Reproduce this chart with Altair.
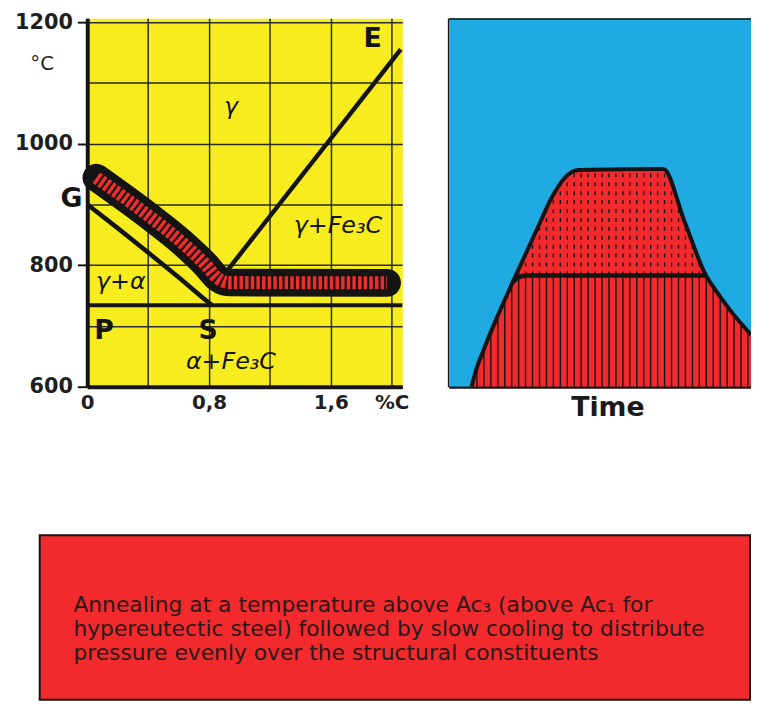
import altair as alt
import pandas as pd
import numpy as np

# ---------------- data: left panel (Fe-Fe3C diagram) ----------------
x_ticks = [0, 0.4, 0.8, 1.2, 1.6, 2.0]
y_ticks = [600, 700, 800, 900, 1000, 1100, 1200]

g_x = [0, 0.2, 0.4, 0.6, 0.8, 0.82]          # GS line (Ac3)
g_t = [900, 861, 821, 780, 738, 734]
psk_x = [0, 2.07]                              # PSK line (Ac1)
psk_t = [734, 734]
se_x = [0.86, 2.06]                            # SE line (Acm)
se_t = [772, 1155]
band_x = [0.06, 0.41, 0.62, 0.78, 0.86, 0.93, 1.97]   # annealing range
band_t = [944, 880, 838, 800, 778, 771.5, 771]

letters = ["E", "G", "P", "S"]
letters_x = [1.875, -0.104, 0.11, 0.794]
letters_t = [1172, 908, 691, 691]
phases = ["γ", "γ+Fe₃C", "γ+α", "α+Fe₃C"]
phases_x = [0.944, 1.647, 0.221, 0.944]
phases_t = [1060, 864, 773, 641]

# ---------------- data: right panel (time-temperature) ----------------
time_x = [7.5, 9.0, 11.5, 15.5, 21.2, 28.7, 34.5, 38.5, 43.0, 71.0, 78.0, 85.1, 88.8, 92.7, 100.0]
temp_y = [0.0, 4.5, 10.0, 18.0, 28.5, 41.9, 52.0, 56.8, 58.8, 59.1, 44.8, 30.2, 25.6, 21.2, 14.1]
ac1_x = [21.2, 23.0, 25.5, 85.1]
ac1_y = [28.5, 29.6, 30.2, 30.2]
ac1_level = 30.2

# ---------------- data: caption ----------------
text_lines = [
    "Annealing at a temperature above Ac₃ (above Ac₁ for",
    "hypereutectic steel) followed by slow cooling to distribute",
    "pressure evenly over the structural constituents",
]
text_rows = [0, 1, 2]

YELLOW = "#f7ed1e"
BLUE = "#20aae2"
RED = "#f22a2e"
BAND_RED = "#ee2d2d"
INK = "#141414"

# ================= left panel =================
xs = alt.Scale(domain=[0, 2.07], nice=False, zero=False)
ys = alt.Scale(domain=[600, 1206.5], nice=False, zero=False)

x_label_expr = ("datum.value == 0 ? '0' : abs(datum.value - 0.8) < 0.01 ? '0,8' : "
                "abs(datum.value - 1.6) < 0.01 ? '1,6' : abs(datum.value - 2) < 0.01 ? '%C' : ''")
xaxis = alt.Axis(values=x_ticks, grid=True, gridColor="#2a2a2a", gridWidth=1.5,
                 domain=True, domainColor=INK, domainWidth=4, ticks=False,
                 labelExpr=x_label_expr, labelFont="DejaVu Sans", labelFontSize=20,
                 labelFontWeight="bold", labelColor="#1f1f1f", labelPadding=6,
                 labelFlush=False, labelOverlap=False)
yaxis = alt.Axis(values=y_ticks, grid=True, gridColor="#2a2a2a", gridWidth=1.5,
                 domain=True, domainColor=INK, domainWidth=4,
                 ticks=True, tickSize=10, tickWidth=2, tickColor=INK,
                 tickOpacity={"condition": {"test": "datum.value % 200 == 0", "value": 1}, "value": 0},
                 labelExpr="datum.value % 200 == 0 ? '' + datum.value : ''",
                 labelFont="DejaVu Sans", labelFontSize=21, labelFontWeight="bold",
                 labelColor="#1f1f1f", labelPadding=5, labelFlush=False, labelOverlap=False,
                 title="°C", titleAngle=0, titleX=-46, titleY=46, titleAlign="center",
                 titleBaseline="middle", titleFont="DejaVu Sans", titleFontSize=20,
                 titleFontWeight="normal", titleColor="#1f1f1f")


def X():
    return alt.X("x:Q", scale=xs, axis=xaxis, title=None)


def Y():
    return alt.Y("t:Q", scale=ys, axis=yaxis, title="°C")


psk_df = pd.DataFrame({"x": psk_x, "t": psk_t})
g_df = pd.DataFrame({"x": g_x, "t": g_t})
se_df = pd.DataFrame({"x": se_x, "t": se_t})
band_df = pd.DataFrame({"x": band_x, "t": band_t})
let_df = pd.DataFrame({"x": letters_x, "t": letters_t, "label": letters})
ph_df = pd.DataFrame({"x": phases_x, "t": phases_t, "label": phases})

psk = alt.Chart(psk_df).mark_line(color=INK, strokeWidth=4).encode(x=X(), y=Y())
gline = alt.Chart(g_df).mark_line(color=INK, strokeWidth=4.5, interpolate="monotone").encode(x=X(), y=Y())
seline = alt.Chart(se_df).mark_line(color=INK, strokeWidth=4.5).encode(x=X(), y=Y())
band_black = alt.Chart(band_df).mark_line(color=INK, strokeWidth=28, strokeCap="round",
                                          strokeJoin="round", interpolate="monotone").encode(x=X(), y=Y())
band_red = alt.Chart(band_df).mark_line(color=BAND_RED, strokeWidth=13, strokeCap="butt",
                                        strokeDash=[3.5, 2.2], interpolate="monotone").encode(x=X(), y=Y())
let_txt = alt.Chart(let_df).mark_text(font="DejaVu Sans", fontWeight="bold", fontSize=27,
                                      color=INK, align="center", baseline="middle").encode(
    x=X(), y=Y(), text="label:N")
ph_txt = alt.Chart(ph_df).mark_text(font="DejaVu Sans", fontStyle="italic", fontSize=24,
                                     color=INK, align="center", baseline="middle").encode(
    x=X(), y=Y(), text="label:N")

left = alt.layer(psk, gline, seline, band_black, band_red, let_txt, ph_txt).properties(
    width=318, height=372, view=alt.ViewBackground(fill=YELLOW, strokeOpacity=0))

# ================= right panel =================
txs = alt.Scale(domain=[0, 100], nice=False, zero=False)
tys = alt.Scale(domain=[0, 100], nice=False, zero=True)
taxis = alt.Axis(domain=True, domainColor=INK, domainWidth=3, ticks=False, labels=False,
                 grid=False, title="Time", titleFont="DejaVu Sans", titleFontSize=27,
                 titleFontWeight="bold", titleColor="#1a1a1a", titlePadding=8,
                 titleX=160, titleAlign="center")
tyaxis = alt.Axis(domain=True, domainColor=INK, domainWidth=3, ticks=False, labels=False,
                  grid=False, title=None)


def TX(f="x:Q"):
    return alt.X(f, scale=txs, axis=taxis, title="Time")


def TY(f="y:Q"):
    return alt.Y(f, scale=tys, axis=tyaxis, title=None)


curve_df = pd.DataFrame({"x": time_x, "y": temp_y})
cover_df = pd.concat([pd.DataFrame({"x": [0.0], "y": [0.0]}), curve_df], ignore_index=True)
ac1_df = pd.DataFrame({"x": ac1_x, "y": ac1_y})
hatch_df = pd.DataFrame({"x": np.arange(7.0, 100.0, 2.3)})
top_df = pd.DataFrame({"x": [0], "x2": [100], "y": [100]})

red_area = alt.Chart(curve_df).mark_area(color=RED, interpolate="monotone", clip=True).encode(
    x=TX(), y=TY())
hatch_low = alt.Chart(hatch_df).mark_rule(color=INK, strokeWidth=1.4, clip=True).encode(
    x=TX(), y=alt.datum(0), y2=alt.datum(ac1_level))
hatch_up = alt.Chart(hatch_df).mark_rule(color=INK, strokeWidth=1.4, strokeDash=[4, 5], clip=True).encode(
    x=TX(), y=alt.datum(ac1_level), y2=alt.datum(62))
cover = alt.Chart(cover_df).mark_area(color=BLUE, interpolate="monotone", clip=True).encode(
    x=TX(), y=TY(), y2=alt.datum(100))
outline = alt.Chart(curve_df).mark_line(color=INK, strokeWidth=4, interpolate="monotone", clip=True).encode(
    x=TX(), y=TY())
ac1_line = alt.Chart(ac1_df).mark_line(color=INK, strokeWidth=4.5, interpolate="monotone", clip=True).encode(
    x=TX(), y=TY())
top_rule = alt.Chart(top_df).mark_rule(color=INK, strokeWidth=3, clip=True).encode(
    x=TX(), x2="x2:Q", y=TY())

right = alt.layer(red_area, hatch_low, hatch_up, cover, outline, ac1_line, top_rule).properties(
    width=305, height=372, view=alt.ViewBackground(fill=BLUE, strokeOpacity=0))

# ================= spacer =================
spacer = alt.Chart(pd.DataFrame({"v": [0]})).mark_point(opacity=0).encode(
    x=alt.X("v:Q", axis=None), y=alt.Y("v:Q", axis=None)).properties(
    width=1, height=372, view=alt.ViewBackground(strokeOpacity=0))

# ================= caption box =================
cap_df = pd.DataFrame({"row": text_rows, "line": text_lines})
caption = alt.Chart(cap_df).mark_text(align="left", baseline="middle", font="DejaVu Sans",
                                      fontSize=22, color="#2a1a1a").encode(
    x=alt.value(34),
    y=alt.Y("row:Q", axis=None, scale=alt.Scale(domain=[-2.92, 3.98], nice=False, zero=False, reverse=True)),
    text="line:N").properties(
    width=717, height=166, view=alt.ViewBackground(fill=RED, stroke=INK, strokeWidth=2))

top_row = alt.hconcat(spacer, left, right, spacing=47, bounds="flush")
chart = alt.vconcat(top_row, caption, spacing=522, bounds="flush").properties(
    padding={"left": 6, "top": -1, "right": 0, "bottom": 0}
).configure(background="white")

chart.save("out.html", embed_options={"renderer": "svg", "actions": False})
